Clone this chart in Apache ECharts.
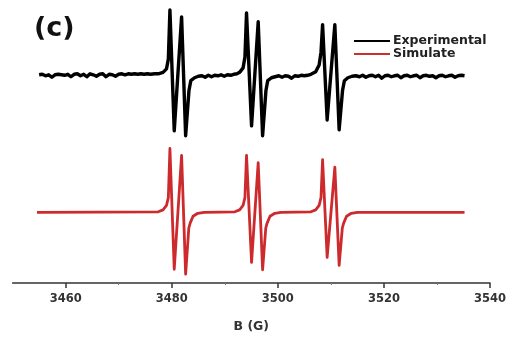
<!DOCTYPE html>
<html>
<head>
<meta charset="utf-8">
<script src="https://cdn.jsdelivr.net/npm/echarts@6/dist/echarts.min.js"></script>
<style>html,body{margin:0;padding:0;background:#fff}#c{width:509px;height:338px}</style>
</head>
<body>
<div id="c"></div>
<script>
// Experimental spectrum: [B (G), intensity (a.u., offset trace)]
const experimental = [
 [3455.0,212],[3455.6,212.5],[3456.2,211],[3456.8,212],[3457.4,209.5],[3458.0,212],[3458.6,212.5],
 [3459.2,212],[3459.8,211.5],[3460.4,212.5],[3461.0,210],[3461.6,212.5],[3462.2,213],[3462.8,211],
 [3463.4,212.5],[3464.0,210],[3464.6,213],[3465.2,212],[3465.8,210.5],[3466.4,212.5],[3467.0,213],
 [3467.6,210],[3468.2,212.5],[3468.8,212],[3469.4,210.5],[3470.0,212.5],[3470.6,213],[3471.2,212],
 [3471.8,213],[3472.4,212.5],[3473.0,213],[3473.6,212.5],[3474.2,213],[3474.8,212.5],[3475.4,213],
 [3476.0,212.5],[3476.8,213],[3477.46,213],[3478.36,214.5],[3479.01,218],[3479.36,228],
 [3479.66,278],[3480.47,155],[3481.86,271],[3482.62,150],[3483.25,196],[3483.6,206],[3484.3,209],
 [3485.0,210.5],[3485.7,211],[3486.3,209.5],[3486.9,211.5],[3487.5,210],[3488.1,211.5],[3488.7,211],
 [3489.3,212],[3489.9,210.5],[3490.5,212],[3491.1,211.5],[3491.7,212.5],[3492.3,213],[3492.8,214.5],
 [3493.45,219],[3493.8,230],[3494.1,275],[3495.05,160],[3496.3,266],[3497.13,150],[3497.76,196],
 [3498.1,206],[3498.8,209],[3499.5,210],[3500.2,211],[3500.8,209.5],[3501.4,211],[3502.0,210.5],
 [3502.6,208.5],[3503.2,211],[3503.8,210.5],[3504.4,211.5],[3505.0,211],[3505.6,211.5],[3506.24,212.5],
 [3507.14,215],[3507.79,222],[3508.14,235],[3508.44,263],[3509.3,166],[3510.75,263],[3511.56,156],
 [3512.2,196],[3512.55,206],[3513.2,209],[3514.0,210.5],[3514.7,211],[3515.4,210],[3516.0,211.5],
 [3516.6,209.5],[3517.2,211],[3517.8,211.5],[3518.4,210],[3519.0,211.5],[3519.6,208.5],[3520.2,211],
 [3520.8,211.5],[3521.4,210],[3522.0,211],[3522.6,211.5],[3523.2,209],[3523.8,211],[3524.4,211.5],
 [3525.0,210],[3525.6,211],[3526.2,211.5],[3526.8,209],[3527.4,211],[3528.0,211.5],[3528.6,210.5],
 [3529.2,211],[3529.8,209],[3530.4,211],[3531.0,211.5],[3531.6,210],[3532.2,211],[3532.8,211.5],
 [3533.4,209.5],[3534.0,211],[3534.6,211.5],[3535.2,211]
];
// Simulated spectrum: [B (G), intensity]
const simulate = [
 [3454.6,72],[3477.46,72.5],[3478.36,74.5],[3479.01,79],[3479.36,87],[3479.66,137],[3480.47,14],
 [3481.86,130],[3482.62,9],[3483.22,56],[3483.47,61],[3484.02,68],[3484.92,71],[3486.1,72],
 [3491.9,72.5],[3492.8,74.5],[3493.45,79],[3493.8,87],[3494.1,130],[3495.05,21],[3496.3,122.5],
 [3497.13,13.5],[3497.73,56],[3497.98,61],[3498.53,68],[3499.43,71],[3500.6,72],
 [3506.24,72.5],[3507.14,74.5],[3507.79,79],[3508.14,87],[3508.44,125.5],[3509.3,26],[3510.75,118],
 [3511.56,18],[3512.16,56],[3512.41,61],[3512.96,68],[3513.86,71],[3515.0,72],[3535.2,72]
];
const seriesNames = ['Experimental','Simulate'];
const majorTicks = [3460,3480,3500,3520,3540];
const minorTicks = [3470,3490,3510,3530];
const xTitle = 'B (G)';
const panelLabel = '(c)';

const FONT = '"DejaVu Sans", sans-serif';
const chart = echarts.init(document.getElementById('c'), null, {renderer:'canvas'});
chart.setOption({
  animation:false,
  backgroundColor:'#fff',
  grid:{left:12.6, right:19, top:8, bottom:50.5, containLabel:false},
  legend:{
    orient:'vertical', left:349, top:29.5, itemGap:0,
    icon:'rect', itemWidth:36, itemHeight:2,
    textStyle:{fontFamily:FONT, fontWeight:'bold', fontSize:12.5, lineHeight:12.5, color:'#222', padding:[0,0,0,-2]},
    data:seriesNames
  },
  graphic:[{type:'text', left:34, top:15, style:{text:panelLabel, font:'bold 27px "DejaVu Sans", sans-serif', fill:'#111'}}],
  xAxis:[{
    type:'value', min:3450, max:3540,
    name:xTitle, nameLocation:'middle', nameGap:37,
    nameTextStyle:{fontFamily:FONT, fontWeight:'bold', fontSize:12.5, color:'#333'},
    axisLine:{lineStyle:{color:'#333', width:1.5}},
    axisTick:{show:true, length:5, customValues:majorTicks, lineStyle:{color:'#333', width:1.5}},
    axisLabel:{customValues:majorTicks, formatter:(v)=>String(v), fontFamily:FONT, fontWeight:'bold', fontSize:11.5, color:'#333', margin:10},
    splitLine:{show:false}
  },{
    type:'value', min:3450, max:3540, position:'bottom',
    axisLine:{show:false},
    axisTick:{show:true, length:2, customValues:minorTicks, lineStyle:{color:'#777', width:1}},
    axisLabel:{show:false}, splitLine:{show:false}
  }],
  yAxis:{type:'value', min:0, max:280, show:false},
  series:[
    {name:seriesNames[0], type:'line', data:experimental, showSymbol:false, symbol:'none',
     color:'#000', lineStyle:{color:'#000', width:3.4, join:'round'}},
    {name:seriesNames[1], type:'line', data:simulate, showSymbol:false, symbol:'none',
     color:'#c9302f', lineStyle:{color:'#cc2a2c', width:2.8, join:'round'}}
  ]
});
</script>
</body>
</html>
